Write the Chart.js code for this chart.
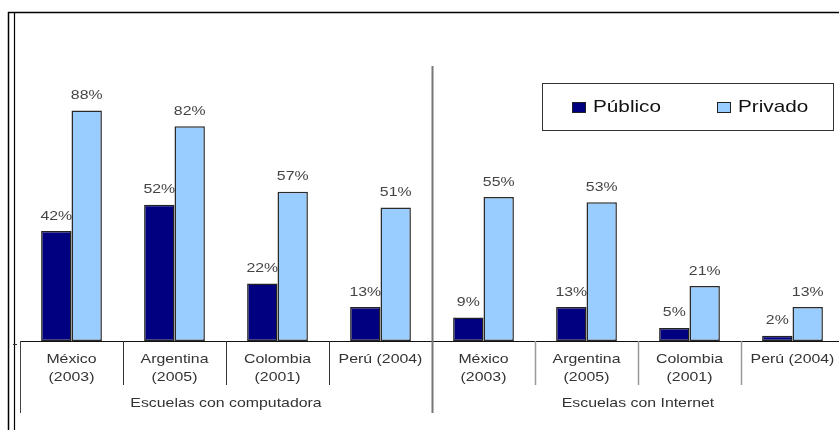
<!DOCTYPE html>
<html>
<head>
<meta charset="utf-8">
<script src="https://cdn.jsdelivr.net/npm/chart.js@4"></script>
<style>
  html, body { margin: 0; padding: 0; background: #fff; overflow: hidden; }
  #wrap { width: 839px; height: 430px; overflow: hidden; position: relative; }
  #wrap canvas { position: absolute; left: 0; top: 0; }
</style>
</head>
<body>
<div id="wrap"><canvas id="chart" width="860" height="430"></canvas></div>
<script>
// Porcentaje de escuelas con computadora / con Internet, por sector
const categories = [
    ['México', '(2003)'], ['Argentina', '(2005)'], ['Colombia', '(2001)'], ['Perú (2004)'],
    ['México', '(2003)'], ['Argentina', '(2005)'], ['Colombia', '(2001)'], ['Perú (2004)']
];
const groups = ['Escuelas con computadora', 'Escuelas con Internet'];
const publico = [42, 52, 22, 13, 9, 13, 5, 2];
const privado = [88, 82, 57, 51, 55, 53, 21, 13];

const FONT = '"Liberation Sans", Arial, sans-serif';
const STRETCH = 1.22; // texto algo ensanchado

function wideText(ctx, text, x, y, size, color, align) {
    ctx.save();
    ctx.font = size + 'px ' + FONT;
    ctx.fillStyle = color;
    ctx.textBaseline = 'middle';
    ctx.textAlign = align || 'center';
    ctx.translate(x, y);
    ctx.scale(STRETCH, 1);
    ctx.fillText(text, 0, 0);
    ctx.restore();
}

function line(ctx, x1, y1, x2, y2, color, width) {
    ctx.save();
    ctx.strokeStyle = color;
    ctx.lineWidth = width;
    ctx.beginPath();
    ctx.moveTo(x1, y1);
    ctx.lineTo(x2, y2);
    ctx.stroke();
    ctx.restore();
}

const decorations = {
    id: 'decorations',
    afterDraw(chart) {
        const ctx = chart.ctx;
        const area = chart.chartArea;
        const x = chart.scales.x;
        const base = chart.scales.y.getPixelForValue(0);
        const step = x.getPixelForValue(1) - x.getPixelForValue(0);
        const n = categories.length;
        const half = n / 2;

        // marco exterior
        line(ctx, 8, 12.5, 860, 12.5, '#000', 1.5);
        line(ctx, 8.5, 12, 8.5, 430, '#000', 1.5);
        line(ctx, 14.5, 13, 14.5, 430, '#000', 1.2);

        // eje horizontal
        line(ctx, area.left, base + 0.5, 860, base + 0.5, '#111', 1.2);
        line(ctx, 13, base + 3.5, 17, base + 3.5, '#333', 1);

        // separadores entre categorías
        for (let i = 1; i < n; i++) {
            const sx = Math.round(x.getPixelForValue(i) - step / 2) + 0.5;
            if (i === half) continue;
            const col = i < half ? '#333' : '#999';
            line(ctx, sx, base, sx, base + 44, col, i < half ? 1 : 1.5);
        }
        line(ctx, area.left + 0.5, base, area.left + 0.5, base + 72, '#444', 1);
        const mid = Math.round(x.getPixelForValue(half) - step / 2) + 0.5;
        line(ctx, mid, area.top, mid, base + 72, '#777', 2);

        // etiquetas de categorías
        categories.forEach((lab, i) => {
            const cx = x.getPixelForValue(i);
            lab.forEach((t, k) => wideText(ctx, t, cx, base + 18 + k * 18, 13, '#333'));
        });

        // etiquetas de grupo
        groups.forEach((g, gi) => {
            const a = x.getPixelForValue(gi * half) - step / 2;
            const b = x.getPixelForValue(gi * half + half - 1) + step / 2;
            wideText(ctx, g, (a + b) / 2, base + 62, 13, '#333');
        });

        // valores sobre las barras
        chart.data.datasets.forEach((ds, di) => {
            chart.getDatasetMeta(di).data.forEach((bar, j) => {
                wideText(ctx, ds.data[j] + '%', bar.x, bar.y - 15, 13, '#444');
            });
        });

        // leyenda
        ctx.save();
        ctx.strokeStyle = '#333';
        ctx.lineWidth = 1;
        ctx.strokeRect(542.5, 83.5, 291, 47);
        ctx.restore();
        const items = [[572, 593], [717, 738]];
        chart.data.datasets.forEach((ds, di) => {
            const [bx, tx] = items[di];
            ctx.save();
            ctx.fillStyle = ds.backgroundColor;
            ctx.fillRect(bx, 102, 14, 11);
            ctx.strokeStyle = '#222';
            ctx.lineWidth = 1;
            ctx.strokeRect(bx + 0.5, 102.5, 13, 10);
            ctx.restore();
            wideText(ctx, ds.label, tx, 107, 17, '#111', 'left');
        });
    }
};

new Chart(document.getElementById('chart'), {
    type: 'bar',
    data: {
        labels: categories.map(c => c.join(' ')),
        datasets: [
            {
                label: 'Público',
                data: publico,
                backgroundColor: '#000080',
                borderColor: '#222',
                borderWidth: 1.5,
                borderSkipped: false,
                barPercentage: 1,
                categoryPercentage: 0.59
            },
            {
                label: 'Privado',
                data: privado,
                backgroundColor: '#99CCFF',
                borderColor: '#2a2a2a',
                borderWidth: 1.5,
                borderSkipped: false,
                barPercentage: 1,
                categoryPercentage: 0.59
            }
        ]
    },
    options: {
        responsive: false,
        animation: false,
        layout: { padding: { left: 20, right: 16, top: 66, bottom: 89 } },
        plugins: { legend: { display: false }, tooltip: { enabled: false } },
        scales: {
            x: { display: false },
            y: { display: false, min: 0, max: 105 }
        }
    },
    plugins: [decorations]
});
</script>
</body>
</html>
